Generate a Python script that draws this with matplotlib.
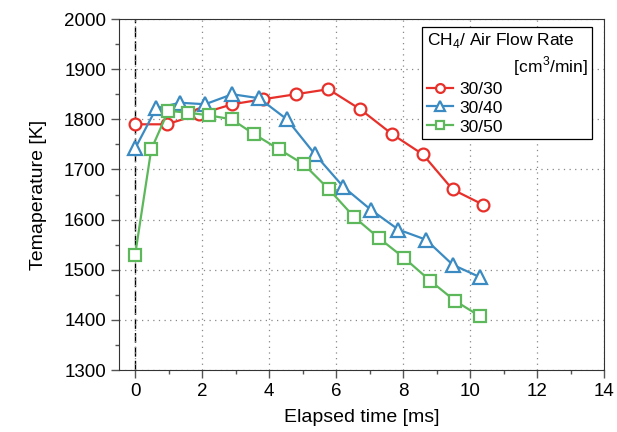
import matplotlib
matplotlib.use("Agg")
import matplotlib.pyplot as plt
from matplotlib.ticker import MultipleLocator

plt.rcParams['font.family'] = ['Liberation Sans', 'DejaVu Sans']
plt.rcParams['mathtext.fontset'] = 'custom'
plt.rcParams['mathtext.rm'] = 'Liberation Sans'

# CH4/Air 30/30
t_30 = [0, 0.94, 1.91, 2.9, 3.82, 4.8, 5.77, 6.72, 7.68, 8.59, 9.48, 10.38]
T_30 = [1790, 1790, 1810, 1830, 1840, 1850, 1860, 1820, 1770, 1730, 1660, 1630]
# 30/40
t_40 = [0, 0.63, 1.34, 2.09, 2.9, 3.7, 4.53, 5.37, 6.22, 7.03, 7.86, 8.68, 9.48, 10.3]
T_40 = [1742, 1822, 1833, 1830, 1850, 1842, 1800, 1730, 1665, 1620, 1580, 1560, 1510, 1485]
# 30/50
t_50 = [0, 0.48, 0.99, 1.59, 2.19, 2.88, 3.56, 4.3, 5.04, 5.79, 6.54, 7.28, 8.04, 8.81, 9.55, 10.3]
T_50 = [1530, 1740, 1817, 1813, 1808, 1800, 1770, 1740, 1710, 1660, 1605, 1563, 1523, 1478, 1438, 1407]

labels = ['30/30', '30/40', '30/50']

fig = plt.figure(figsize=(6.17, 4.32), dpi=100)
ax = fig.add_axes([0.193, 0.1435, 0.786, 0.8125])

ax.axvline(0, color='black', ls=(0, (7, 3)), lw=1.0, zorder=1)

ax.plot(t_30, T_30, '-o', color='#e8302a', lw=1.6, ms=8.5, mfc='white', mew=1.6, label=labels[0], zorder=3)
ax.plot(t_40, T_40, '-^', color='#3b8bc2', lw=1.6, ms=10.5, mfc='white', mew=1.6, label=labels[1], zorder=3)
ax.plot(t_50, T_50, '-s', color='#5cb85a', lw=1.6, ms=8, mfc='white', mew=1.6, label=labels[2], zorder=3)

ax.set_xlim(-0.48, 14)
ax.set_ylim(1300, 2000)
ax.xaxis.set_major_locator(MultipleLocator(2))
ax.xaxis.set_minor_locator(MultipleLocator(1))
ax.yaxis.set_major_locator(MultipleLocator(100))
ax.yaxis.set_minor_locator(MultipleLocator(50))
ax.tick_params(which='major', direction='out', length=6, width=1, labelsize=13.5, color='#555555')
ax.tick_params(which='minor', direction='out', length=3, width=1, color='#555555')
ax.grid(True, which='major', ls=(0, (1, 3.5)), color='#888888', lw=0.9)
for s in ax.spines.values():
    s.set_color('#333333')

ax.set_xlabel('Elapsed time [ms]', fontsize=14, labelpad=6)
ax.set_ylabel('Temaperature [K]', fontsize=14, labelpad=12)

title = 'CH$_4$/ Air Flow Rate\n' + ' ' * 18 + '[cm$^3$/min]'
leg = ax.legend(title=title, loc='upper right',
                bbox_to_anchor=(0.975, 0.977), borderaxespad=0,
                fontsize=12.5, title_fontsize=12.5, fancybox=False, framealpha=1,
                edgecolor='black', handlelength=1.5, handletextpad=0.4,
                labelspacing=0.22, borderpad=0.25, markerscale=0.75)
leg.get_title().set_multialignment('left')
leg.get_frame().set_linewidth(0.9)
leg._legend_box.align = 'left'

fig.savefig('out.png', dpi=100)
